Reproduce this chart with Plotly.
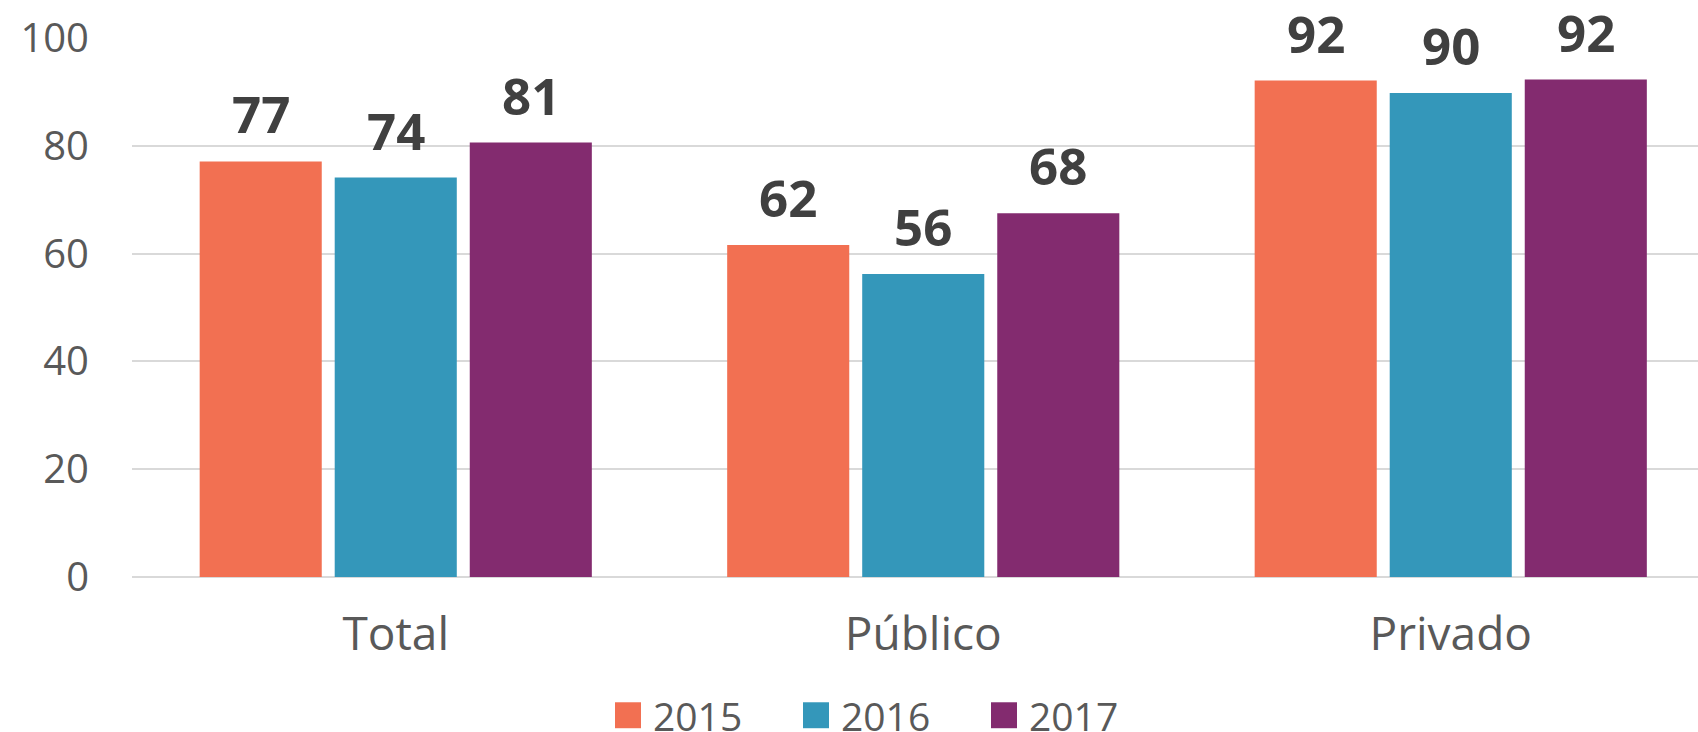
import plotly.graph_objects as go

CATEGORIES = ["Total", "Público", "Privado"]
YEARS = ["2015", "2016", "2017"]
V_2015 = [77.1, 61.6, 92.1]
V_2016 = [74.1, 56.2, 89.8]
V_2017 = [80.6, 67.5, 92.3]
Y_TICKS = [0, 20, 40, 60, 80, 100]

COLOURS = ["#F27052", "#3497BA", "#832B6F"]
FONT = "Open Sans, Noto Sans, sans-serif"

W, H = 1698, 732
M_L, M_R, M_T, M_B = 132, 0, 37.5, 154.5
BARGAP = 0.232
BARGROUPGAP = 0.096
CAT_PX = 527.5   # width of one category band in the original

fig = go.Figure()

series = [V_2015, V_2016, V_2017]
n_series = len(series)
slot = (1 - BARGAP) / n_series

for j, (year, vals, colour) in enumerate(zip(YEARS, series, COLOURS)):
    fig.add_trace(go.Bar(
        x=CATEGORIES,
        y=vals,
        name=year,
        marker=dict(color=colour, line=dict(width=0)),
        showlegend=False,
    ))
    # value labels above each bar, placed at the bar centre
    offset = (j - (n_series - 1) / 2) * slot
    for i, v in enumerate(vals):
        fig.add_annotation(
            x=i + offset, y=v, xref="x", yref="y",
            text=f"{v:.0f}",
            showarrow=False,
            yanchor="bottom",
            yshift=11,
            font=dict(size=51, color="#404040", family=FONT, weight="bold"),
        )

# ------------------------------------------------------------------
# Legend drawn by hand so the colour squares can be as large as the
# original (plotly caps legend swatches at a small size)
# ------------------------------------------------------------------
plot_w = W - M_L - M_R
plot_h = H - M_T - M_B
LEG_X0, LEG_STEP, LEG_SQ, LEG_Y = 615, 188, 26, 716

def px_x(px):
    return (px - M_L) / plot_w

def px_y(py):
    return (H - M_B - py) / plot_h

for j, (year, colour) in enumerate(zip(YEARS, COLOURS)):
    x0 = LEG_X0 + j * LEG_STEP
    fig.add_shape(
        type="rect", xref="paper", yref="paper",
        x0=px_x(x0), x1=px_x(x0 + LEG_SQ),
        y0=px_y(LEG_Y - LEG_SQ / 2), y1=px_y(LEG_Y + LEG_SQ / 2),
        fillcolor=colour, line=dict(width=0),
    )
    fig.add_annotation(
        x=px_x(x0 + LEG_SQ + 10), y=px_y(LEG_Y),
        xref="paper", yref="paper",
        text=year, showarrow=False,
        xanchor="left", yanchor="middle",
        height=32, valign="middle",
        font=dict(size=39, color="#595959", family=FONT),
    )

fig.update_layout(
    width=W,
    height=H,
    margin=dict(l=M_L, r=M_R, t=M_T, b=M_B),
    plot_bgcolor="white",
    paper_bgcolor="white",
    font=dict(family=FONT, color="#595959"),
    barmode="group",
    bargap=BARGAP,
    bargroupgap=BARGROUPGAP,
    showlegend=False,
)

fig.update_xaxes(
    range=[-0.5, -0.5 + plot_w / CAT_PX],
    tickfont=dict(size=46, color="#595959"),
    showgrid=False,
    showline=False,
    ticks="",
    ticklabelstandoff=26,
    automargin=False,
)
fig.update_yaxes(
    range=[0, 100],
    tickvals=Y_TICKS,
    tickfont=dict(size=40, color="#595959"),
    showgrid=True,
    gridcolor="#D9D9D9",
    gridwidth=1.5,
    zeroline=True,
    zerolinecolor="#D9D9D9",
    zerolinewidth=1.5,
    showline=False,
    ticks="",
    ticklabelstandoff=42,
    automargin=False,
)

# drop the browser's default 8px body margin so the figure fills the window
fig.write_html(
    "out.html",
    config={"displayModeBar": False},
    post_script="document.body.style.margin='0';document.body.style.overflow='hidden';",
)
